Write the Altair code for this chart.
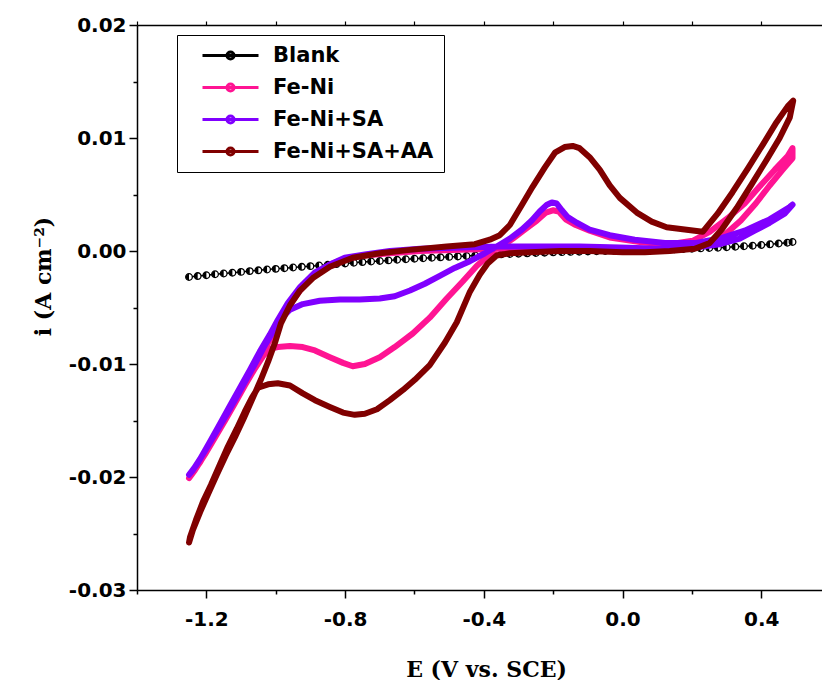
import altair as alt
import pandas as pd

# ---------------- data ----------------
SERIES = ["Blank", "Fe-Ni", "Fe-Ni+SA", "Fe-Ni+SA+AA"]
COLORS = ["#000000", "#FF1493", "#8000FF", "#800000"]

E_blank = [-1.25, -1.225, -1.2, -1.175, -1.15, -1.125, -1.1, -1.075, -1.05, -1.025,
           -1.0, -0.975, -0.95, -0.925, -0.9, -0.875, -0.85, -0.825, -0.8, -0.775,
           -0.75, -0.725, -0.7, -0.675, -0.65, -0.625, -0.6, -0.575, -0.55, -0.525,
           -0.5, -0.475, -0.45, -0.425, -0.4, -0.375, -0.35, -0.325, -0.3, -0.275,
           -0.25, -0.225, -0.2, -0.175, -0.15, -0.125, -0.1, -0.075, -0.05, -0.025,
           0.0, 0.025, 0.05, 0.075, 0.1, 0.125, 0.15, 0.175, 0.2, 0.225,
           0.25, 0.275, 0.3, 0.325, 0.35, 0.375, 0.4, 0.425, 0.45, 0.475, 0.49]
I_blank = [-0.0023, -0.00222, -0.00214, -0.00206, -0.00199, -0.00192, -0.00185, -0.00178, -0.00171, -0.00164,
           -0.00158, -0.00152, -0.00146, -0.0014, -0.00134, -0.00128, -0.00122, -0.00116, -0.0011, -0.00104,
           -0.00098, -0.00093, -0.00088, -0.00083, -0.00078, -0.00073, -0.00068, -0.00064, -0.0006, -0.00056,
           -0.00052, -0.00048, -0.00044, -0.0004, -0.00036, -0.00033, -0.0003, -0.00027, -0.00024, -0.00021,
           -0.00018, -0.00015, -0.00012, -0.0001, -0.00008, -0.00006, -0.00004, -0.00002, 0.0, 0.00002,
           0.00004, 0.00006, 0.00008, 0.0001, 0.00012, 0.00014, 0.00016, 0.00018, 0.0002, 0.00023,
           0.00026, 0.00029, 0.00033, 0.00037, 0.00042, 0.00047, 0.00053, 0.00059, 0.00066, 0.00073, 0.0008]

E_feni = [0.0, -0.124, -0.239, -0.354, -0.469, -0.584, -0.671, -0.743, -0.801, -0.844,
          -0.887, -0.93, -0.965, -0.994, -1.017, -1.046, -1.074, -1.103, -1.132, -1.161,
          -1.19, -1.218, -1.239, -1.25, -1.233, -1.204, -1.175, -1.146, -1.118, -1.089,
          -1.06, -1.034, -1.011, -0.994, -0.959, -0.922, -0.887, -0.844, -0.806, -0.778,
          -0.743, -0.7, -0.657, -0.605, -0.556, -0.507, -0.461, -0.42, -0.383, -0.348,
          -0.316, -0.282, -0.247, -0.221, -0.201, -0.184, -0.164, -0.135, -0.095, -0.037,
          0.05, 0.136, 0.202, 0.251, 0.303, 0.352, 0.395, 0.439, 0.476, 0.49,
          0.49, 0.462, 0.424, 0.384, 0.341, 0.297, 0.251, 0.194, 0.107, 0.0]
I_feni = [0.0002, 0.0002, 0.0002, 0.0002, 0.0001, 0.0, -0.0002, -0.0004, -0.0007, -0.0012,
          -0.0021, -0.0035, -0.005, -0.0065, -0.0079, -0.0094, -0.011, -0.0125, -0.0141, -0.0156,
          -0.0172, -0.0187, -0.0196, -0.0201, -0.0194, -0.018, -0.0165, -0.015, -0.0135, -0.0119,
          -0.0104, -0.0092, -0.0086, -0.0085, -0.0084, -0.0085, -0.0088, -0.0094, -0.0099, -0.0102,
          -0.01, -0.0094, -0.0085, -0.0073, -0.0059, -0.0042, -0.0027, -0.0013, -0.0003, 0.0004,
          0.0011, 0.0019, 0.0027, 0.0034, 0.0036, 0.0035, 0.0028, 0.0023, 0.0018, 0.0012,
          0.0008, 0.0006, 0.0009, 0.0017, 0.0029, 0.0042, 0.0057, 0.0072, 0.0084, 0.0091,
          0.0082, 0.0072, 0.0058, 0.0042, 0.0027, 0.0015, 0.0006, 0.0003, 0.0002, 0.0002]

E_feni_sa = [0.49, 0.467, 0.424, 0.381, 0.338, 0.28, 0.208, 0.107, -0.008, -0.124,
             -0.239, -0.354, -0.469, -0.584, -0.671, -0.743, -0.801, -0.844, -0.887, -0.93,
             -0.965, -0.994, -1.017, -1.046, -1.074, -1.103, -1.132, -1.161, -1.19, -1.218,
             -1.239, -1.25, -1.23, -1.204, -1.175, -1.146, -1.118, -1.089, -1.06, -1.034,
             -1.011, -0.988, -0.959, -0.922, -0.873, -0.815, -0.758, -0.7, -0.657, -0.613,
             -0.57, -0.527, -0.484, -0.44, -0.397, -0.363, -0.325, -0.29, -0.262, -0.239,
             -0.218, -0.204, -0.19, -0.175, -0.158, -0.132, -0.095, -0.037, 0.035, 0.122,
             0.208, 0.28, 0.352, 0.424, 0.482, 0.49]
I_feni_sa = [0.0041, 0.0033, 0.0025, 0.0018, 0.0011, 0.0006, 0.0003, 0.0002, 0.0003, 0.0004,
             0.0004, 0.0004, 0.0003, 0.0002, 0.0, -0.0003, -0.0006, -0.0012, -0.0019, -0.0032,
             -0.0046, -0.0061, -0.0074, -0.0089, -0.0105, -0.0121, -0.0137, -0.0153, -0.0169, -0.0184,
             -0.0194, -0.0198, -0.019, -0.0177, -0.0162, -0.0147, -0.0132, -0.0116, -0.01, -0.0085,
             -0.0073, -0.0061, -0.0052, -0.0047, -0.0044, -0.0043, -0.0043, -0.0042, -0.004, -0.0035,
             -0.0029, -0.0022, -0.0015, -0.0009, -0.0002, 0.0004, 0.0011, 0.0019, 0.0027, 0.0035,
             0.0041, 0.0043, 0.0042, 0.0036, 0.003, 0.0025, 0.0019, 0.0014, 0.001, 0.0007,
             0.0007, 0.0011, 0.0018, 0.0028, 0.0039, 0.0041]

E_feni_sa_aa = [0.0, -0.095, -0.181, -0.267, -0.325, -0.363, -0.389, -0.412, -0.44, -0.478,
                -0.512, -0.556, -0.599, -0.633, -0.671, -0.708, -0.743, -0.772, -0.806, -0.844,
                -0.887, -0.922, -0.959, -0.994, -1.022, -1.051, -1.069, -1.089, -1.112, -1.138,
                -1.161, -1.187, -1.21, -1.23, -1.247, -1.25, -1.239, -1.218, -1.195, -1.17,
                -1.144, -1.118, -1.092, -1.066, -1.043, -1.022, -1.002, -0.985, -0.959, -0.93,
                -0.893, -0.844, -0.778, -0.7, -0.613, -0.507, -0.426, -0.383, -0.354, -0.325,
                -0.29, -0.259, -0.224, -0.195, -0.167, -0.144, -0.124, -0.095, -0.066, -0.037,
                -0.008, 0.041, 0.084, 0.127, 0.179, 0.231, 0.274, 0.317, 0.361, 0.404,
                0.444, 0.476, 0.492, 0.482, 0.453, 0.416, 0.372, 0.329, 0.286, 0.251,
                0.208, 0.136, 0.064, 0.0]
I_feni_sa_aa = [-0.0001, 0.0, 0.0, -0.0001, -0.0002, -0.0004, -0.0011, -0.0021, -0.0036, -0.0063,
                -0.0081, -0.0101, -0.0114, -0.0123, -0.0132, -0.014, -0.0144, -0.0145, -0.0143, -0.0138,
                -0.0132, -0.0126, -0.0119, -0.0117, -0.0118, -0.0121, -0.013, -0.0142, -0.0157, -0.0173,
                -0.0189, -0.0207, -0.0222, -0.0238, -0.0253, -0.0258, -0.0247, -0.0231, -0.0215, -0.0198,
                -0.0181, -0.0165, -0.0148, -0.013, -0.0114, -0.0098, -0.0081, -0.0064, -0.0048, -0.0035,
                -0.0024, -0.0014, -0.0006, -0.0002, 0.0001, 0.0004, 0.0006, 0.001, 0.0014, 0.0023,
                0.0041, 0.0057, 0.0074, 0.0087, 0.0092, 0.0093, 0.0091, 0.0083, 0.0072, 0.0058,
                0.0047, 0.0034, 0.0026, 0.0021, 0.0019, 0.0017, 0.0033, 0.0052, 0.0073, 0.0094,
                0.0114, 0.0128, 0.0133, 0.0118, 0.01, 0.0081, 0.0059, 0.0038, 0.0019, 0.0007,
                0.0002, 0.0, -0.0001, -0.0001]

X_TICKS = [-1.4, -1.2, -1.0, -0.8, -0.6, -0.4, -0.2, 0.0, 0.2, 0.4]
Y_TICKS = [-0.03, -0.025, -0.02, -0.015, -0.01, -0.005, 0.0, 0.005, 0.01, 0.015, 0.02]

# ---------------- table ----------------
rows = []
for name, es, cs in [("Blank", E_blank, I_blank), ("Fe-Ni", E_feni, I_feni),
                     ("Fe-Ni+SA", E_feni_sa, I_feni_sa), ("Fe-Ni+SA+AA", E_feni_sa_aa, I_feni_sa_aa)]:
    for k, (e, c) in enumerate(zip(es, cs)):
        rows.append({"series": name, "E": e, "i": c, "idx": k})
df = pd.DataFrame(rows)

SANS = "DejaVu Sans"
SERIF = "DejaVu Serif"

x_major_test = "abs(round(datum.value*10)) % 4 == 0"
y_major_test = "abs(round(datum.value*1000)) % 10 == 0"

x_scale = alt.Scale(domain=[-1.4, 0.575], nice=False, zero=False)
y_scale = alt.Scale(domain=[-0.03, 0.02], nice=False, zero=False)

x_bottom = alt.Axis(
    orient="bottom", values=X_TICKS, grid=False,
    labelExpr=f"{x_major_test} ? (datum.value < -0.001 ? '-' : '') + format(abs(datum.value), '.1f') : ''",
    tickSize={"condition": {"test": x_major_test, "value": 8}, "value": 4},
    tickColor="black", tickWidth=1.5, domainColor="black", domainWidth=1.5,
    labelFont=SANS, labelFontWeight="bold", labelFontSize=20, labelColor="black",
    labelPadding=11, labelFlush=False, labelOverlap=False,
    title="E (V vs. SCE)", titleFont=SERIF, titleFontWeight="bold", titleFontSize=22,
    titleColor="black", titleX=349, titleY=86, titleAlign="center", titleBaseline="alphabetic",
)
x_top = alt.Axis(
    orient="top", values=X_TICKS, grid=False, labels=False, title=None,
    tickSize=4, tickColor="black", tickWidth=1.2, domainColor="black", domainWidth=1.5,
)
y_left = alt.Axis(
    orient="left", values=Y_TICKS, grid=False,
    labelExpr=f"{y_major_test} ? (datum.value < -0.0001 ? '-' : '') + format(abs(datum.value), '.2f') : ''",
    tickSize={"condition": {"test": y_major_test, "value": 8}, "value": 4},
    tickColor="black", tickWidth=1.5, domainColor="black", domainWidth=1.5,
    labelFont=SANS, labelFontWeight="bold", labelFontSize=20, labelColor="black",
    labelPadding=3, labelFlush=False, labelOverlap=False,
    title="i (A cm\u207b\u00b2)", titleFont=SERIF, titleFontWeight="bold", titleFontSize=22,
    titleColor="black", titleAngle=270, titleX=-87, titleY=251, titleAlign="center",
    titleBaseline="alphabetic",
)

SYMBOL = "M-5.6,0L5.6,0M-0.7,0A0.7,0.7,0,1,1,0.7,0A0.7,0.7,0,1,1,-0.7,0Z"
legend = alt.Legend(
    title=None, orient="none", legendX=40, legendY=10,
    symbolType=SYMBOL, symbolSize=100, symbolStrokeWidth=3, symbolFillColor="white",
    symbolOffset=33, labelOffset=32,
    labelFont=SANS, labelFontWeight="bold", labelFontSize=21, labelColor="black", labelLimit=400,
    padding=10, rowPadding=10, strokeColor="black", fillColor="white",
)
color = alt.Color("series:N", scale=alt.Scale(domain=SERIES, range=COLORS), legend=legend)


def curve(name, width):
    return alt.Chart(df).transform_filter(alt.datum.series == name).mark_line(
        strokeWidth=width, strokeCap="round", strokeJoin="round"
    ).encode(
        x=alt.X("E:Q", scale=x_scale, axis=None),
        y=alt.Y("i:Q", scale=y_scale, axis=y_left),
        color=color,
        order=alt.Order("idx:Q"),
    )


blank_line = alt.Chart(df).transform_filter(alt.datum.series == "Blank").mark_line(
    strokeWidth=1.5
).encode(
    x=alt.X("E:Q", scale=x_scale, axis=x_bottom),
    y=alt.Y("i:Q", scale=y_scale, axis=y_left),
    color=color,
    order=alt.Order("idx:Q"),
)
blank_ring = alt.Chart(df).transform_filter(alt.datum.series == "Blank").mark_point(
    shape="circle", size=44, filled=True, fill="white", stroke="black", strokeWidth=1.3, opacity=1
).encode(
    x=alt.X("E:Q", scale=x_scale, axis=None),
    y=alt.Y("i:Q", scale=y_scale, axis=y_left),
)
blank_half = alt.Chart(df).transform_filter(alt.datum.series == "Blank").mark_point(
    shape="M0,-1A1,1,0,0,0,0,1Z", size=44, filled=True, fill="black", strokeWidth=0, opacity=1
).encode(
    x=alt.X("E:Q", scale=x_scale, axis=None),
    y=alt.Y("i:Q", scale=y_scale, axis=y_left),
)
top_axis = alt.Chart(df).transform_filter(alt.datum.series == "Blank").mark_line(
    opacity=0
).encode(
    x=alt.X("E:Q", scale=x_scale, axis=x_top),
    y=alt.Y("i:Q", scale=y_scale, axis=y_left),
    order=alt.Order("idx:Q"),
)

chart = alt.layer(
    blank_line, blank_ring, blank_half,
    curve("Fe-Ni", 6), curve("Fe-Ni+SA", 6), curve("Fe-Ni+SA+AA", 6),
    top_axis,
).resolve_axis(x="independent").properties(
    width=685, height=565,
    autosize=alt.AutoSizeParams(type="none"),
    padding={"left": 137, "top": 25, "right": 0, "bottom": 90},
).configure_view(stroke=None).configure(background="white")

chart.save("out.html", embed_options={"renderer": "svg", "actions": False})
